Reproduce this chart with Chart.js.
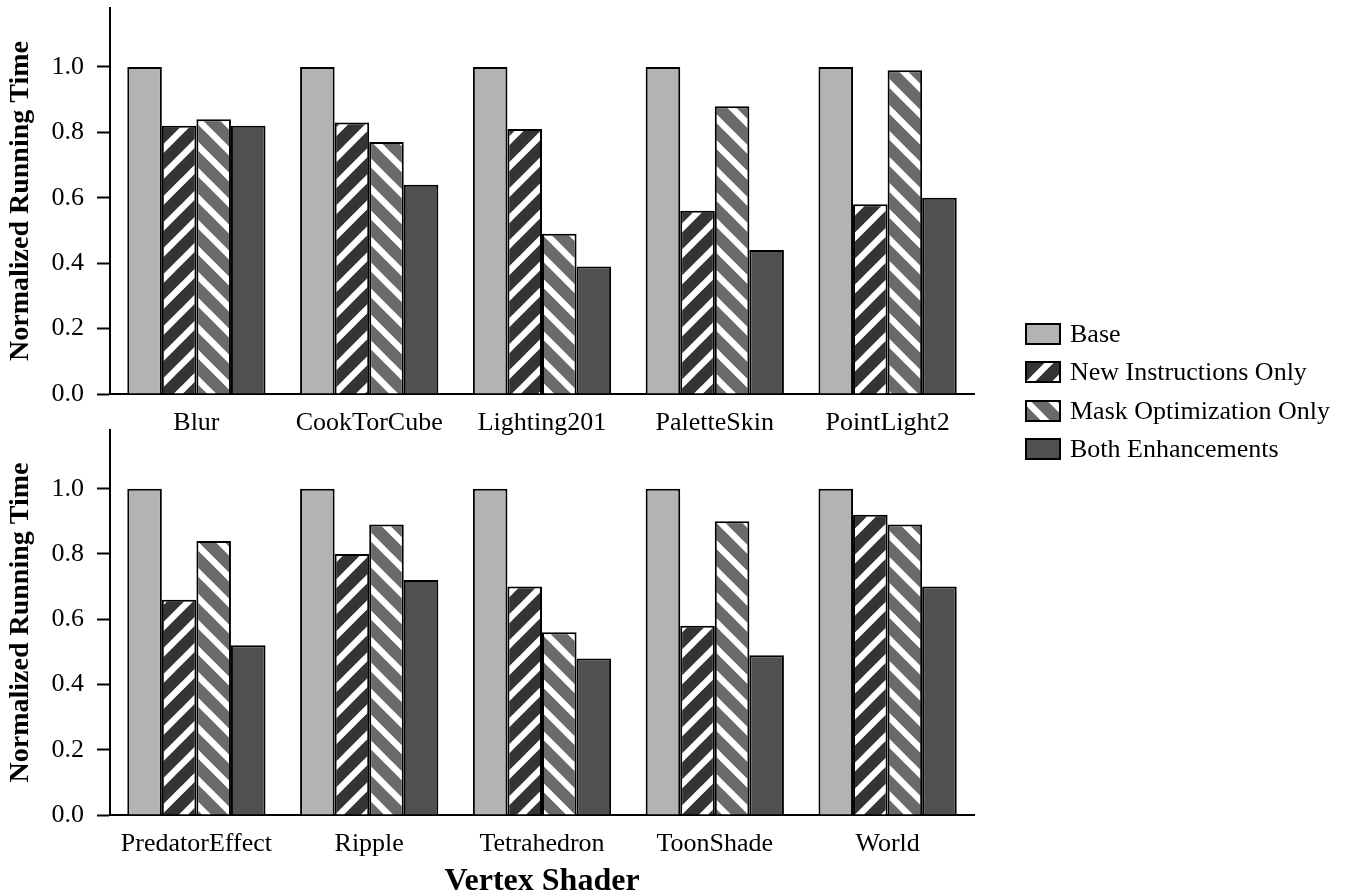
<!DOCTYPE html>
<html>
<head>
<meta charset="utf-8">
<script src="https://cdn.jsdelivr.net/npm/chart.js@4"></script>
<style>
  body { margin: 0; background: #fff; }
  #wrap { position: relative; width: 1353px; height: 896px; }
  canvas { position: absolute; left: 0; }
  #legend { position: absolute; left: 1025px; top: 315px; font-family: "Liberation Serif", serif; font-size: 26px; color: #000; }
  .row { display: flex; align-items: center; height: 38.3px; }
  .row canvas { position: static; margin-right: 9px; }
</style>
</head>
<body>
<div id="wrap">
  <canvas id="topChart" width="1000" height="446" style="top:0"></canvas>
  <canvas id="bottomChart" width="1000" height="470" style="top:426px"></canvas>
  <div id="legend"></div>
</div>
<script>
const seriesNames = ['Base', 'New Instructions Only', 'Mask Optimization Only', 'Both Enhancements'];

const topShaders = ['Blur', 'CookTorCube', 'Lighting201', 'PaletteSkin', 'PointLight2'];
const topBase = [1.0, 1.0, 1.0, 1.0, 1.0];
const topNewInstr = [0.82, 0.83, 0.81, 0.56, 0.58];
const topMaskOpt = [0.84, 0.77, 0.49, 0.88, 0.99];
const topBoth = [0.82, 0.64, 0.39, 0.44, 0.60];

const bottomShaders = ['PredatorEffect', 'Ripple', 'Tetrahedron', 'ToonShade', 'World'];
const bottomBase = [1.0, 1.0, 1.0, 1.0, 1.0];
const bottomNewInstr = [0.66, 0.80, 0.70, 0.58, 0.92];
const bottomMaskOpt = [0.84, 0.89, 0.56, 0.90, 0.89];
const bottomBoth = [0.52, 0.72, 0.48, 0.49, 0.70];

const yTicks = [0.0, 0.2, 0.4, 0.6, 0.8, 1.0];

const FONT = '"Liberation Serif", "Times New Roman", serif';

// diagonal white stripes on a grey background
function stripes(bg, forward) {
    const n = 26;
    const c = document.createElement('canvas');
    c.width = n; c.height = n;
    const g = c.getContext('2d');
    g.fillStyle = bg;
    g.fillRect(0, 0, n, n);
    g.strokeStyle = '#fff';
    g.lineWidth = 6.5;
    for (const o of [-n, 0, n]) {
        g.beginPath();
        if (forward) {
            g.moveTo(o - 6, n + 6);
            g.lineTo(o + n + 6, -6);
        } else {
            g.moveTo(o - 6, -6);
            g.lineTo(o + n + 6, n + 6);
        }
        g.stroke();
    }
    return g.createPattern(c, 'repeat');
}

const fills = [
    '#b3b3b3',
    stripes('#343434', true),
    stripes('#6a6a6a', false),
    '#505050'
];

function makeChart(id, labels, series, opts) {
    const ctx = document.getElementById(id);
    new Chart(ctx, {
        type: 'bar',
        data: {
            labels: labels,
            datasets: series.map((vals, i) => ({
                label: seriesNames[i],
                data: vals,
                backgroundColor: fills[i],
                borderColor: '#000',
                borderWidth: 2,
                categoryPercentage: 0.8,
                barPercentage: 1.0
            }))
        },
        options: {
            responsive: false,
            animation: false,
            layout: { padding: { top: opts.top, right: 26, left: 0, bottom: 0 } },
            plugins: {
                legend: { display: false },
                tooltip: { enabled: false }
            },
            scales: {
                x: {
                    offset: true,
                    grid: { display: false },
                    border: { color: '#000', width: 2 },
                    ticks: {
                        color: '#000',
                        padding: 6,
                        maxRotation: 0,
                        autoSkip: false,
                        font: { family: FONT, size: 26 }
                    },
                    title: {
                        display: !!opts.xTitle,
                        text: opts.xTitle || '',
                        color: '#000',
                        font: { family: FONT, size: 32, weight: 'bold', lineHeight: 0.9 },
                        padding: { top: 0, bottom: 0 }
                    },
                    afterFit: s => {
                        s.height = opts.xHeight;
                        s.paddingLeft = 0;
                        s.paddingRight = 0;
                    }
                },
                y: {
                    min: 0,
                    max: 1.18,
                    afterBuildTicks: s => { s.ticks = yTicks.map(v => ({ value: v })); },
                    grid: {
                        drawOnChartArea: false,
                        drawTicks: true,
                        tickLength: 13,
                        tickColor: '#000',
                        tickWidth: 2
                    },
                    border: { color: '#000', width: 2 },
                    ticks: {
                        color: '#000',
                        padding: 13,
                        font: { family: FONT, size: 26 },
                        callback: v => v.toFixed(1)
                    },
                    title: {
                        display: true,
                        text: 'Normalized Running Time',
                        color: '#000',
                        font: { family: FONT, size: 28, weight: 'bold', lineHeight: 1.2 },
                        padding: { top: 4, bottom: 0 }
                    },
                    afterFit: s => {
                        s.width = 110;
                        s.paddingTop = 0;
                        s.paddingBottom = 0;
                    }
                }
            }
        }
    });
}

makeChart('topChart', topShaders, [topBase, topNewInstr, topMaskOpt, topBoth],
    { top: 8, xHeight: 52 });
makeChart('bottomChart', bottomShaders, [bottomBase, bottomNewInstr, bottomMaskOpt, bottomBoth],
    { top: 4, xHeight: 81, xTitle: 'Vertex Shader' });

// shared legend on the right
const legend = document.getElementById('legend');
seriesNames.forEach((name, i) => {
    const row = document.createElement('div');
    row.className = 'row';
    const sw = document.createElement('canvas');
    sw.width = 36; sw.height = 22;
    const g = sw.getContext('2d');
    g.fillStyle = fills[i];
    g.fillRect(0, 0, 36, 22);
    g.strokeStyle = '#000';
    g.lineWidth = 2;
    g.strokeRect(1, 1, 34, 20);
    const txt = document.createElement('span');
    txt.textContent = name;
    row.appendChild(sw);
    row.appendChild(txt);
    legend.appendChild(row);
});
</script>
</body>
</html>
